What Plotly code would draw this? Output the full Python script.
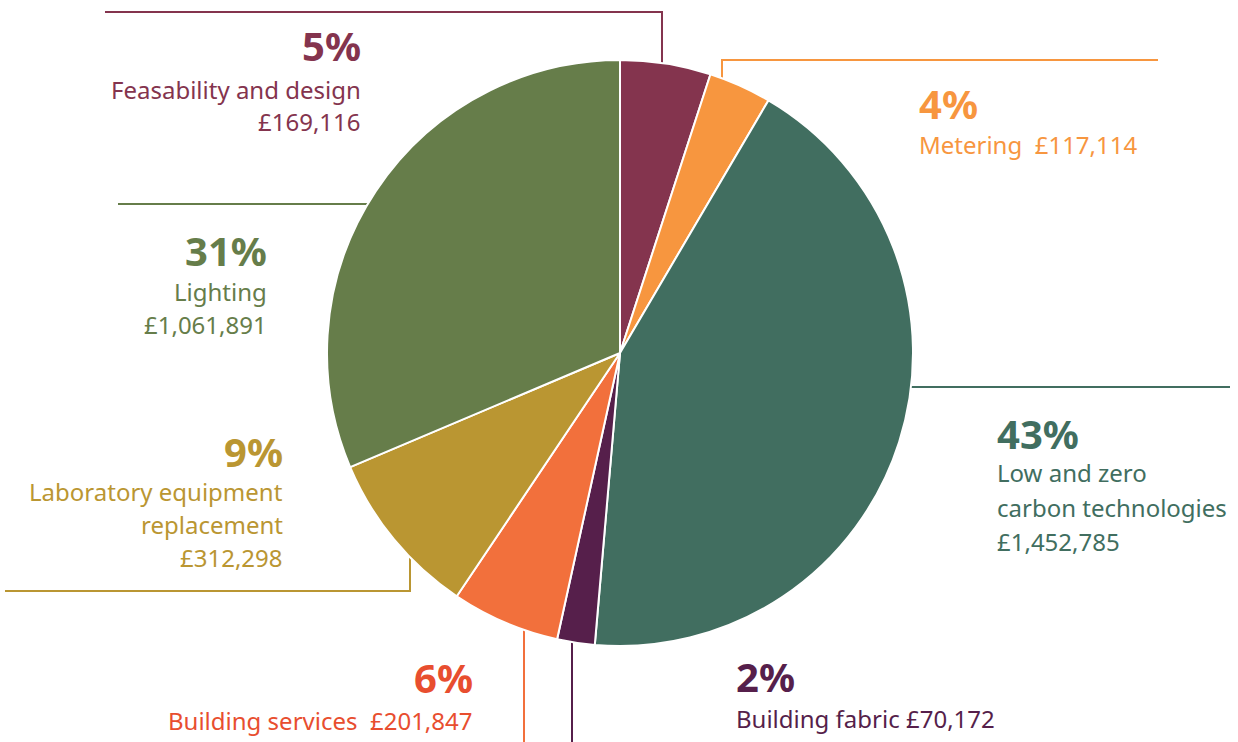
import plotly.graph_objects as go

W, H = 1238, 742

labels = ['Feasability and design', 'Metering', 'Low and zero carbon technologies',
          'Building fabric', 'Building services', 'Laboratory equipment replacement',
          'Lighting']
values = [169116, 117114, 1452785, 70172, 201847, 312298, 1061891]
pct_labels = ['5%', '4%', '43%', '2%', '6%', '9%', '31%']
money_labels = ['£169,116', '£117,114', '£1,452,785', '£70,172', '£201,847',
                '£312,298', '£1,061,891']
slice_colors = ['#84344E', '#F7963F', '#416E60', '#561F4B', '#F2703C',
                '#BA9632', '#667D4A']
text_colors = ['#84344E', '#F7963F', '#416E60', '#561F4B', '#E84E2F',
               '#BA9632', '#667D4A']

FONT = 'Noto Sans'


def px(x):
    return x / W


def py(y):
    return 1 - y / H


fig = go.Figure(go.Pie(
    labels=labels,
    values=values,
    sort=False,
    direction='clockwise',
    rotation=0,
    marker=dict(colors=slice_colors, line=dict(color='white', width=2)),
    textinfo='none',
    hoverinfo='label+value+percent',
    showlegend=False,
    domain=dict(x=[px(327), px(913)], y=[py(646), py(60)]),
))

# leader lines (pixel paths), drawn below the pie
leaders = [
    (0, [(105, 12), (662, 12), (662, 80)]),
    (1, [(722, 95), (722, 60), (1158, 60)]),
    (2, [(890, 387), (1230, 387)]),
    (6, [(118, 204), (380, 204)]),
    (5, [(5, 591), (410, 591), (410, 545)]),
    (4, [(524, 620), (524, 742)]),
    (3, [(572, 630), (572, 742)]),
]
for i, pts in leaders:
    path = 'M ' + ' L '.join(f'{px(x):.5f},{py(y):.5f}' for x, y in pts)
    fig.add_shape(type='path', path=path, xref='paper', yref='paper',
                  line=dict(color=slice_colors[i], width=2), layer='below')

# label blocks: (slice index, x, anchor, pct y, [(line text, y), ...])
blocks = [
    (0, 362, 'right', 46, [('Feasability and design', 89), (money_labels[0], 122)]),
    (1, 918, 'left', 103, [('Metering  ' + money_labels[1], 144)]),
    (2, 996, 'left', 433, [('Low and zero', 473), ('carbon technologies', 507),
                           (money_labels[2], 541)]),
    (3, 735, 'left', 676, [('Building fabric ' + money_labels[3], 718)]),
    (4, 474, 'right', 677, [('Building services  ' + money_labels[4], 720)]),
    (5, 284, 'right', 451, [('Laboratory equipment', 491), ('replacement', 524),
                            (money_labels[5], 557)]),
    (6, 268, 'right', 250, [('Lighting', 291), (money_labels[6], 325)]),
]
for i, x, anchor, ypct, lines in blocks:
    c = text_colors[i]
    fig.add_annotation(x=px(x), y=py(ypct), xref='paper', yref='paper',
                       text=f'<b>{pct_labels[i]}</b>', showarrow=False,
                       xanchor=anchor, yanchor='middle', align=anchor, borderpad=0,
                       font=dict(family=FONT, size=40, color=c))
    for t, yy in lines:
        fig.add_annotation(x=px(x), y=py(yy), xref='paper', yref='paper',
                           text=t, showarrow=False,
                           xanchor=anchor, yanchor='middle', align=anchor, borderpad=0,
                           font=dict(family=FONT, size=24, color=c))

fig.update_layout(width=W, height=H, margin=dict(l=0, r=0, t=0, b=0),
                  paper_bgcolor='white', plot_bgcolor='white')
fig.write_html('out.html', config={'displayModeBar': False},
               post_script="document.body.style.margin='0';")
